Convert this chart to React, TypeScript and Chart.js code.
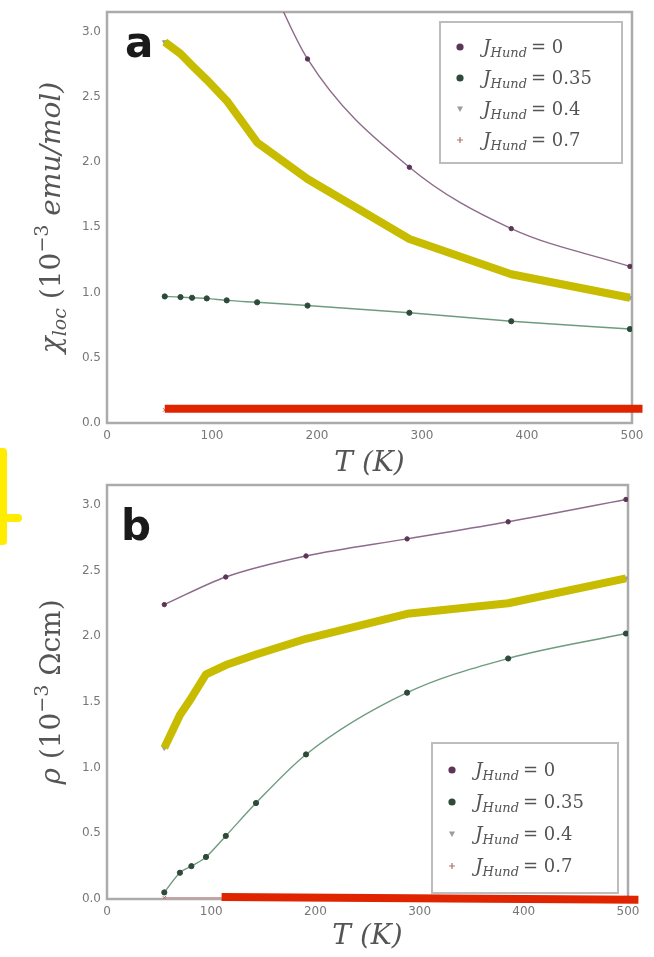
import React, { useEffect, useRef } from 'react';
import { Chart, registerables } from 'chart.js';

Chart.register(...registerables);

// Temperatures (K) of the computed points
const T_K = [55, 70, 81, 95, 114, 143, 191, 288, 385, 498];

// Local susceptibility chi_loc (10^-3 emu/mol) for each J_Hund
const CHI_J0 = [null, null, null, null, null, 3.6, 2.79, 1.96, 1.49, 1.2];
const CHI_J035 = [0.97, 0.965, 0.96, 0.955, 0.94, 0.925, 0.9, 0.845, 0.78, 0.72];
const CHI_J04 = [2.92, 2.83, 2.74, 2.63, 2.47, 2.15, 1.87, 1.41, 1.14, 0.96];
const CHI_J07 = [0.1, null, null, null, 0.1, 0.1, 0.1, 0.1, 0.1, 0.1];

// Resistivity rho (10^-3 Ohm cm) for each J_Hund
const RHO_J0 = [2.24, null, null, null, 2.45, null, 2.61, 2.74, 2.87, 3.04];
const RHO_J035 = [0.05, 0.2, 0.25, 0.32, 0.48, 0.73, 1.1, 1.57, 1.83, 2.02];
const RHO_J04 = [1.15, 1.4, 1.53, 1.71, 1.78, 1.86, 1.98, 2.17, 2.25, 2.44];
const RHO_J07 = [0.01, null, null, null, 0.01, 0.01, 0.01, 0.01, 0.01, 0.01];

// Red marker strokes laid along the J_Hund = 0.7 curves
const CHI_STROKE_T = [55, 510];
const CHI_STROKE = [0.11, 0.11];
const RHO_STROKE_T = [110, 510];
const RHO_STROKE = [0.015, -0.006];

const J_HUND = ['0', '0.35', '0.4', '0.7'];

const T_MAX = 500;
const T_STEP = 100;
const Y_MAX = 3.15;
const Y_STEP = 0.5;

const MATH_FONT = '"DejaVu Serif", "Liberation Serif", serif';
const TICK_FONT = '"DejaVu Sans", sans-serif';

const SERIES = [
  { line: '#8d6b8a', point: '#5d3556', style: 'circle', radius: 2.2, rotation: 0 },
  { line: '#6e9b80', point: '#2e4a3a', style: 'circle', radius: 2.6, rotation: 0 },
  { line: '#b9b9b9', point: '#9c9c9c', style: 'triangle', radius: 2.6, rotation: 180 },
  { line: '#d3a0a0', point: '#b07070', style: 'crossRot', radius: 2.6, rotation: 0 },
];

type Run = { t: string; size: number; dy?: number; italic?: boolean };

function toPoints(xs: number[], ys: (number | null)[]) {
  const out: { x: number; y: number }[] = [];
  xs.forEach((x, i) => {
    const y = ys[i];
    if (y !== null && y !== undefined) out.push({ x, y });
  });
  return out;
}

function fontOf(r: Run) {
  return `${r.italic ? 'italic ' : ''}${r.size}px ${MATH_FONT}`;
}

function drawRuns(ctx: CanvasRenderingContext2D, runs: Run[], cx: number, baseline: number) {
  let w = 0;
  for (const r of runs) {
    ctx.font = fontOf(r);
    w += ctx.measureText(r.t).width;
  }
  let x = cx - w / 2;
  ctx.textAlign = 'left';
  ctx.textBaseline = 'alphabetic';
  for (const r of runs) {
    ctx.font = fontOf(r);
    ctx.fillText(r.t, x, baseline + (r.dy || 0));
    x += ctx.measureText(r.t).width;
  }
}

function drawMarker(ctx: CanvasRenderingContext2D, i: number, x: number, y: number) {
  const s = SERIES[i];
  ctx.save();
  ctx.fillStyle = s.point;
  ctx.strokeStyle = s.point;
  ctx.lineWidth = 1.2;
  if (i < 2) {
    ctx.beginPath();
    ctx.arc(x, y, 3.6, 0, Math.PI * 2);
    ctx.fill();
  } else if (i === 2) {
    ctx.beginPath();
    ctx.moveTo(x - 3, y - 2.5);
    ctx.lineTo(x + 3, y - 2.5);
    ctx.lineTo(x, y + 3);
    ctx.closePath();
    ctx.fill();
  } else {
    ctx.beginPath();
    ctx.moveTo(x - 3, y);
    ctx.lineTo(x + 3, y);
    ctx.moveTo(x, y - 3);
    ctx.lineTo(x, y + 3);
    ctx.stroke();
  }
  ctx.restore();
}

type PanelSpec = {
  letter: string;
  letterX: number;
  letterY: number;
  yTitle: Run[];
  yTitleX: number;
  xTitleY: number;
  legend: { right: number; top?: number; bottom?: number; w: number; h: number; first: number; gap: number };
};

function decorPlugin(spec: PanelSpec) {
  return {
    id: 'decor',
    beforeDatasetsDraw(chart: any) {
      const { ctx, chartArea: a } = chart;
      ctx.save();
      ctx.strokeStyle = '#ababab';
      ctx.lineWidth = 2.5;
      ctx.strokeRect(a.left, a.top, a.right - a.left, a.bottom - a.top);
      ctx.restore();
    },
    afterDraw(chart: any) {
      const { ctx, chartArea: a } = chart;
      ctx.save();
      // panel letter
      ctx.fillStyle = '#1a1a1a';
      ctx.font = `bold 42px "DejaVu Sans", sans-serif`;
      ctx.textAlign = 'left';
      ctx.textBaseline = 'alphabetic';
      ctx.fillText(spec.letter, spec.letterX, spec.letterY);

      // axis titles
      ctx.fillStyle = '#555';
      drawRuns(ctx, [
        { t: 'T', size: 28, italic: true },
        { t: ' (', size: 28, italic: true },
        { t: 'K', size: 28, italic: true },
        { t: ')', size: 28, italic: true },
      ], (a.left + a.right) / 2, spec.xTitleY);
      ctx.save();
      ctx.translate(spec.yTitleX, (a.top + a.bottom) / 2);
      ctx.rotate(-Math.PI / 2);
      drawRuns(ctx, spec.yTitle, 0, 0);
      ctx.restore();

      // legend
      const L = spec.legend;
      const x0 = a.right - L.right - L.w;
      const y0 = L.top !== undefined ? a.top + L.top : a.bottom - (L.bottom || 0) - L.h;
      ctx.fillStyle = '#fff';
      ctx.fillRect(x0, y0, L.w, L.h);
      ctx.strokeStyle = '#bdbdbd';
      ctx.lineWidth = 2;
      ctx.strokeRect(x0, y0, L.w, L.h);
      J_HUND.forEach((j, i) => {
        const cy = y0 + L.first + i * L.gap;
        drawMarker(ctx, i, x0 + 20, cy);
        let x = x0 + 43;
        ctx.fillStyle = '#555';
        ctx.textAlign = 'left';
        ctx.textBaseline = 'alphabetic';
        ctx.font = `italic 19px ${MATH_FONT}`;
        ctx.fillText('J', x, cy + 6);
        x += ctx.measureText('J').width;
        ctx.font = `italic 13px ${MATH_FONT}`;
        ctx.fillText('Hund', x, cy + 10);
        x += ctx.measureText('Hund').width + 4;
        ctx.font = `18px ${MATH_FONT}`;
        ctx.fillText('= ' + j, x, cy + 6);
      });
      ctx.restore();
    },
  };
}

function buildConfig(
  values: (number | null)[][],
  strokeT: number[],
  stroke: number[],
  spec: PanelSpec,
  pad: { top: number; right: number },
  xAxisHeight: number,
) {
  const datasets: any[] = values.map((vals, i) => {
    const s = SERIES[i];
    return {
      data: toPoints(T_K, vals),
      borderColor: s.line,
      borderWidth: 1.4,
      pointStyle: s.style,
      pointRadius: s.radius,
      pointRotation: s.rotation,
      pointBackgroundColor: s.point,
      pointBorderColor: s.point,
      pointBorderWidth: 1,
      cubicInterpolationMode: 'monotone',
      order: 2,
    };
  });
  // yellow marker stroke over the J_Hund = 0.4 curve
  datasets.push({
    data: toPoints(T_K, values[2]),
    borderColor: '#c8bc00',
    borderWidth: 8,
    pointRadius: 0,
    tension: 0,
    borderJoinStyle: 'round',
    order: 1,
  });
  // red marker stroke along the J_Hund = 0.7 curve
  datasets.push({
    data: toPoints(strokeT, stroke),
    borderColor: '#e02400',
    borderWidth: 8,
    pointRadius: 0,
    tension: 0,
    clip: false,
    order: 0,
  });

  return {
    type: 'line' as const,
    data: { datasets },
    options: {
      animation: false,
      responsive: false,
      devicePixelRatio: 1,
      layout: { padding: { top: pad.top, right: pad.right, left: 0, bottom: 0 } },
      plugins: { legend: { display: false }, tooltip: { enabled: false } },
      scales: {
        x: {
          type: 'linear',
          min: 0,
          max: T_MAX,
          ticks: {
            stepSize: T_STEP,
            includeBounds: false,
            padding: 6,
            color: '#777',
            font: { family: TICK_FONT, size: 12 },
            maxRotation: 0,
            callback: (v: any) => String(v),
          },
          grid: { display: false, drawTicks: false },
          border: { display: false },
          afterFit: (s: any) => {
            s.height = xAxisHeight;
            s.paddingLeft = 0;
            s.paddingRight = 0;
          },
        },
        y: {
          type: 'linear',
          min: 0,
          max: Y_MAX,
          ticks: {
            stepSize: Y_STEP,
            includeBounds: false,
            padding: 6,
            color: '#777',
            font: { family: TICK_FONT, size: 12 },
            callback: (v: any) => Number(v).toFixed(1),
          },
          grid: { display: false, drawTicks: false },
          border: { display: false },
          afterFit: (s: any) => {
            s.width = 107;
            s.paddingTop = 0;
            s.paddingBottom = 0;
          },
        },
      },
    },
    plugins: [decorPlugin(spec)],
  };
}

export default function App() {
  const refA = useRef<HTMLCanvasElement>(null);
  const refB = useRef<HTMLCanvasElement>(null);

  useEffect(() => {
    const specA: PanelSpec = {
      letter: 'a',
      letterX: 125,
      letterY: 57,
      yTitle: [
        { t: 'χ', size: 28, italic: true },
        { t: 'loc', size: 19, italic: true, dy: 6 },
        { t: ' (10', size: 28 },
        { t: '−3', size: 19, dy: -12 },
        { t: ' emu/mol)', size: 28, italic: true },
      ],
      yTitleX: 60,
      xTitleY: 471,
      legend: { right: 10, top: 10, w: 182, h: 141, first: 25, gap: 31 },
    };
    const specB: PanelSpec = {
      letter: 'b',
      letterX: 121,
      letterY: 60,
      yTitle: [
        { t: 'ρ', size: 28, italic: true },
        { t: ' (10', size: 28 },
        { t: '−3', size: 19, dy: -12 },
        { t: ' Ωcm)', size: 28 },
      ],
      yTitleX: 60,
      xTitleY: 464,
      legend: { right: 10, bottom: 6, w: 186, h: 150, first: 27, gap: 32 },
    };

    const chartA = new Chart(
      refA.current!,
      buildConfig([CHI_J0, CHI_J035, CHI_J04, CHI_J07], CHI_STROKE_T, CHI_STROKE, specA, { top: 12, right: 22 }, 57) as any,
    );
    const chartB = new Chart(
      refB.current!,
      buildConfig([RHO_J0, RHO_J035, RHO_J04, RHO_J07], RHO_STROKE_T, RHO_STROKE, specB, { top: 5, right: 26 }, 58) as any,
    );
    return () => {
      chartA.destroy();
      chartB.destroy();
    };
  }, []);

  const bar: React.CSSProperties = { position: 'absolute', background: '#ffec00', borderRadius: 4 };

  return (
    <div style={{ position: 'absolute', left: 0, top: 0, width: 654, height: 957, background: '#fff', overflow: 'hidden' }}>
      <canvas ref={refA} width={654} height={480} style={{ position: 'absolute', left: 0, top: 0, display: 'block' }} />
      <canvas ref={refB} width={654} height={477} style={{ position: 'absolute', left: 0, top: 480, display: 'block' }} />
      <div style={{ ...bar, left: -4, top: 448, width: 11, height: 97 }} />
      <div style={{ ...bar, left: -4, top: 514, width: 26, height: 8 }} />
    </div>
  );
}
